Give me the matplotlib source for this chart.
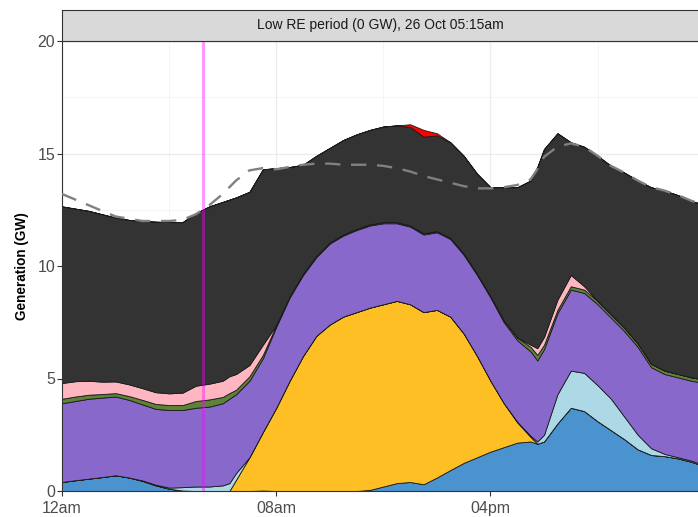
import matplotlib
matplotlib.use("Agg")
import matplotlib.pyplot as plt
from matplotlib.ticker import FixedLocator

plt.rcParams['font.family'] = ['Liberation Sans', 'DejaVu Sans']

# time of day in hours
hours = [0, 0.5, 1, 1.5, 2, 2.5, 3, 3.5, 4, 4.5, 5, 5.5, 6, 6.25, 6.5,
         7, 7.5, 8, 8.5, 9, 9.5, 10, 10.5, 11, 11.5, 12, 12.5, 13, 13.5, 14,
         14.5, 15, 15.5, 16, 16.5, 17, 17.5, 17.75,
         18, 18.5, 19, 19.5, 20, 20.5, 21, 21.5, 22, 22.5, 23, 23.5, 23.75]

# generation by source (GW), stacked bottom to top
blue = [0.40, 0.48, 0.55, 0.62, 0.70, 0.60, 0.45, 0.25, 0.10, 0.02, 0, 0, 0, 0, 0,
        0, 0.02, 0, 0, 0, 0, 0, 0, 0, 0.05, 0.20, 0.35, 0.40, 0.30, 0.60,
        0.93, 1.25, 1.50, 1.75, 1.95, 2.15, 2.20, 2.10,
        2.20, 3.00, 3.70, 3.55, 3.10, 2.70, 2.30, 1.85, 1.60, 1.55, 1.45, 1.30, 1.20]
solar = [0, 0, 0, 0, 0, 0, 0, 0, 0, 0, 0, 0, 0, 0, 0.5,
         1.5, 2.6, 3.7, 4.9, 6.0, 6.9, 7.4, 7.75, 7.95, 8.1, 8.1, 8.1, 7.9, 7.65, 7.45,
         6.82, 5.75, 4.5, 3.15, 1.95, 0.9, 0.2, 0,
         0, 0, 0, 0, 0, 0, 0, 0, 0, 0, 0, 0, 0]
light_blue = [0, 0, 0, 0, 0, 0, 0.02, 0.03, 0.05, 0.15, 0.20, 0.20, 0.25, 0.35, 0.30,
              0, 0, 0, 0, 0, 0, 0, 0, 0, 0, 0, 0, 0, 0, 0,
              0, 0, 0, 0, 0, 0.03, 0.05, 0.10,
              0.30, 1.30, 1.65, 1.70, 1.60, 1.40, 1.00, 0.65, 0.30, 0.10, 0.05, 0.05, 0.05]
purple = [3.50, 3.52, 3.55, 3.53, 3.50, 3.45, 3.38, 3.37, 3.45, 3.43, 3.50, 3.55, 3.65, 3.75, 3.50,
          3.40, 3.28, 3.60, 3.70, 3.60, 3.50, 3.60, 3.60, 3.65, 3.65, 3.60, 3.45, 3.45, 3.45, 3.45,
          3.45, 3.50, 3.60, 3.70, 3.60, 3.62, 3.75, 3.60,
          3.80, 3.60, 3.60, 3.55, 3.60, 3.60, 3.80, 3.90, 3.60, 3.55, 3.55, 3.55, 3.60]
green = [0.20, 0.20, 0.18, 0.16, 0.15, 0.17, 0.20, 0.22, 0.22, 0.22, 0.30, 0.32, 0.28, 0.25, 0.20,
         0.20, 0.15, 0.08, 0.05, 0.05, 0.05, 0.05, 0.05, 0.05, 0.05, 0.05, 0.05, 0.05, 0.05, 0.05,
         0.05, 0.05, 0.05, 0.05, 0.08, 0.12, 0.20, 0.25,
         0.20, 0.15, 0.15, 0.15, 0.15, 0.15, 0.15, 0.15, 0.15, 0.15, 0.15, 0.15, 0.15]
pink = [0.70, 0.68, 0.62, 0.55, 0.52, 0.52, 0.52, 0.52, 0.52, 0.55, 0.68, 0.70, 0.72, 0.75, 0.70,
        0.50, 0.45, 0, 0, 0, 0, 0, 0, 0, 0, 0, 0, 0, 0, 0,
        0, 0, 0, 0, 0, 0, 0.10, 0.30,
        0.35, 0.45, 0.50, 0.15, 0, 0, 0, 0, 0, 0, 0, 0, 0]
dark = [7.85, 7.67, 7.55, 7.44, 7.28, 7.31, 7.43, 7.58, 7.61, 7.58, 7.67, 7.88, 7.95, 7.85, 7.85,
        7.70, 7.80, 6.97, 5.75, 4.85, 4.45, 4.20, 4.20, 4.20, 4.20, 4.25, 4.30, 4.38, 4.30, 4.25,
        4.25, 4.35, 4.45, 4.85, 5.92, 6.68, 7.30, 8.05,
        8.35, 7.40, 5.90, 6.20, 6.45, 6.60, 6.90, 7.25, 7.85, 8.00, 7.95, 7.85, 7.80]
red = [0, 0, 0, 0, 0, 0, 0, 0, 0, 0, 0, 0, 0, 0, 0,
       0, 0, 0, 0, 0, 0, 0, 0, 0, 0, 0, 0, 0.12, 0.30, 0.10,
       0, 0, 0, 0, 0, 0, 0, 0,
       0, 0, 0, 0, 0, 0, 0, 0, 0, 0, 0, 0, 0]
demand = [13.2, 12.95, 12.7, 12.45, 12.2, 12.1, 12.0, 12.0, 12.0, 12.05, 12.3, 12.7, 13.2, 13.5, 13.8,
          14.25, 14.35, 14.3, 14.4, 14.5, 14.55, 14.55, 14.5, 14.5, 14.5, 14.45, 14.35, 14.2, 14.0, 13.85,
          13.7, 13.55, 13.45, 13.45, 13.5, 13.6, 13.85, 14.3,
          14.85, 15.3, 15.45, 15.3, 14.9, 14.45, 14.15, 13.8, 13.5, 13.35, 13.15, 12.9, 12.8]

colors = ['#4B93CF', '#FDBF24', '#ADD8E6', '#8868CB', '#5E8237', '#FFB6C1', '#333333', '#FF0000']

marker_hour = 5.25
x_ticks = [0, 8, 16]
x_labels = ['12am', '08am', '04pm']
title = 'Low RE period (0 GW), 26 Oct 05:15am'

fig = plt.figure(figsize=(6.98, 5.17), dpi=100)
ax = fig.add_axes([62 / 698, 1 - 491 / 517, 636 / 698, 450 / 517])

ax.stackplot(hours, blue, solar, light_blue, purple, green, pink, dark, red,
             colors=colors, edgecolor='#1a1a1a', linewidth=0.6, zorder=2)
ax.plot(hours, demand, color='#808080', lw=1.7, dashes=(6.5, 4.5), zorder=3)
ax.axvline(marker_hour, color='magenta', alpha=0.4, lw=2.2, zorder=4)

ax.set_xlim(0, 23.75)
ax.set_ylim(0, 20)
ax.set_xticks(x_ticks)
ax.set_xticklabels(x_labels)
ax.set_yticks([0, 5, 10, 15, 20])
ax.xaxis.set_minor_locator(FixedLocator([4, 12, 20]))
ax.yaxis.set_minor_locator(FixedLocator([2.5, 7.5, 12.5, 17.5]))
ax.grid(which='major', color='#EBEBEB', lw=0.9)
ax.grid(which='minor', color='#F2F2F2', lw=0.5)
ax.set_axisbelow(True)
ax.tick_params(which='major', length=3.5, width=0.8, color='#333333',
               labelsize=11.5, labelcolor='#4D4D4D')
ax.tick_params(axis='x', which='major', pad=4)
ax.tick_params(axis='y', which='major', pad=1.5)
ax.tick_params(which='minor', length=0)
for side in ['left', 'top', 'bottom']:
    ax.spines[side].set_color('#333333')
    ax.spines[side].set_linewidth(0.8)
ax.spines['right'].set_visible(False)
ax.set_ylabel('Generation (GW)', fontsize=9.8, fontweight='bold', labelpad=6)

strip = fig.add_axes([62 / 698, 1 - 41 / 517, 636 / 698, 31 / 517])
strip.set_facecolor('#D9D9D9')
strip.set_xticks([])
strip.set_yticks([])
for side in ['left', 'top', 'bottom']:
    strip.spines[side].set_color('#333333')
    strip.spines[side].set_linewidth(0.8)
strip.spines['right'].set_visible(False)
strip.text(0.5, 0.5, title, ha='center', va='center', fontsize=10, color='#1A1A1A',
           transform=strip.transAxes)

fig.savefig('out.png', dpi=100)
